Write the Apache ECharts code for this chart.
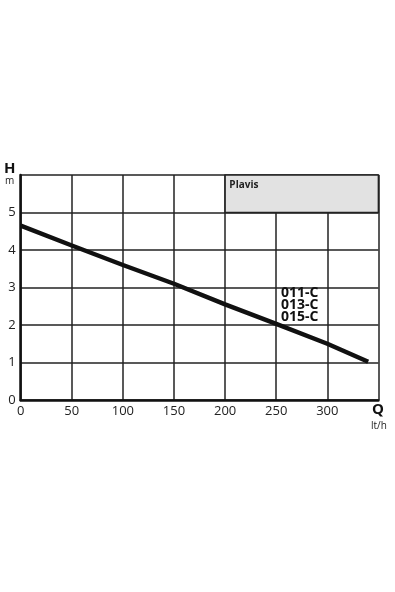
<!DOCTYPE html>
<html><head><meta charset="utf-8">
<script src="https://cdn.jsdelivr.net/npm/echarts@6/dist/echarts.min.js"></script>
<style>html,body{margin:0;padding:0;background:#fff}#c{width:395px;height:592px}</style>
</head><body><div id="c"></div>
<script>
const flowQ = [0, 50, 100, 150, 200, 250, 300, 340];
const headH = [4.65, 4.12, 3.6, 3.1, 2.55, 2.03, 1.5, 1.02];
const xTicks = [0, 50, 100, 150, 200, 250, 300];
const yTicks = [0, 1, 2, 3, 4, 5];
const models = ['011-C', '013-C', '015-C'];
const brand = 'Plavis';
const boxRange = [[200, 6], [350, 5]];

const FONT = '"Open Sans", "DejaVu Sans", sans-serif';
const chart = echarts.init(document.getElementById('c'));
const grid = {left: 20.7, right: 16.6, top: 175, bottom: 192};
chart.setOption({
  animation: false,
  grid: grid,
  xAxis: {
    type: 'value', min: 0, max: 350, interval: 50,
    axisLine: {show: true, lineStyle: {color: '#111', width: 2.5}},
    axisTick: {show: false},
    splitLine: {show: true, lineStyle: {color: '#222', width: 1.5}},
    axisLabel: {color: '#222', fontFamily: FONT, fontSize: 13, margin: 5,
      formatter: v => xTicks.includes(v) ? String(v) : ''}
  },
  yAxis: {
    type: 'value', min: 0, max: 6, interval: 1,
    axisLine: {show: true, lineStyle: {color: '#111', width: 2.5}},
    axisTick: {show: false},
    splitLine: {show: true, lineStyle: {color: '#222', width: 1.5}},
    axisLabel: {color: '#222', fontFamily: FONT, fontSize: 13, margin: 5,
      formatter: v => yTicks.includes(v) ? String(v) : ''}
  },
  series: [{
    type: 'line', data: flowQ.map((q, i) => [q, headH[i]]),
    showSymbol: false, lineStyle: {color: '#111', width: 4.5}, z: 5,
    markArea: {silent: true, itemStyle: {color: '#e2e2e2', borderColor: '#222', borderWidth: 1.5},
      label: {show: true, position: 'insideTopLeft', formatter: brand, color: '#222',
        fontFamily: FONT, fontWeight: 'bold', fontSize: 10, offset: [0, 1]},
      data: [[{coord: boxRange[0]}, {coord: boxRange[1]}]]}
  }],
  graphic: [
    {type: 'text', left: 4, top: 161, style: {text: 'H', font: 'bold 15px ' + FONT, fill: '#111'}},
    {type: 'text', left: 5, top: 176, style: {text: 'm', font: '10px ' + FONT, fill: '#222'}},
    {type: 'text', left: 372, top: 402, style: {text: 'Q', font: 'bold 15px ' + FONT, fill: '#111'}},
    {type: 'text', left: 371, top: 421, style: {text: 'lt/h', font: '10px ' + FONT, fill: '#222'}},
    {type: 'text', left: 281, top: 286, z: 10, style: {text: models.join('\n'), font: 'bold 14px ' + FONT,
      lineHeight: 12, fill: '#111'}}
  ]
});
</script></body></html>
